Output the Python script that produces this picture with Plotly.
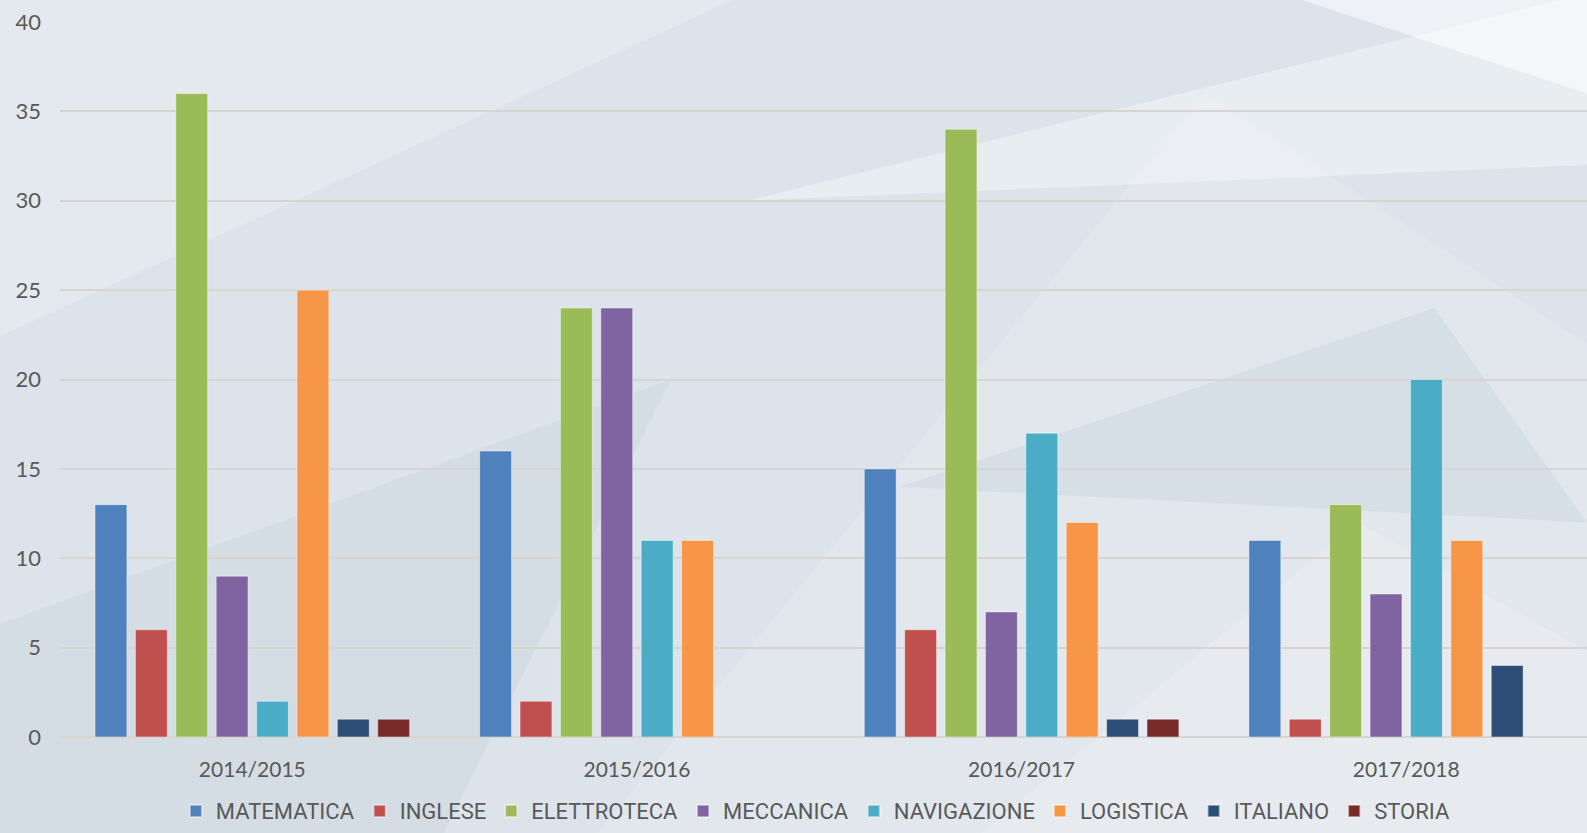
import plotly.graph_objects as go

categories = ["2014/2015", "2015/2016", "2016/2017", "2017/2018"]
series_names = ["MATEMATICA", "INGLESE", "ELETTROTECA", "MECCANICA",
                "NAVIGAZIONE", "LOGISTICA", "ITALIANO", "STORIA"]
matematica = [13, 16, 15, 11]
inglese = [6, 2, 6, 1]
elettroteca = [36, 24, 34, 13]
meccanica = [9, 24, 7, 8]
navigazione = [2, 11, 17, 20]
logistica = [25, 11, 12, 11]
italiano = [1, None, 1, 4]
storia = [1, None, 1, None]
series_values = [matematica, inglese, elettroteca, meccanica,
                 navigazione, logistica, italiano, storia]
colors = ["#4F81BD", "#C0504D", "#9BBB59", "#8064A2",
          "#4BACC6", "#F79646", "#2C4D75", "#772C2A"]
y_ticks = [0, 5, 10, 15, 20, 25, 30, 35, 40]

fig = go.Figure()
for name, vals, col in zip(series_names, series_values, colors):
    fig.add_trace(go.Bar(
        name=name, x=categories, y=vals,
        marker=dict(color=col, line=dict(color="rgba(255,255,255,0.45)", width=1)),
    ))

# decorative background facets (paper coords, extended over margins)
facets = [
    ("M-0.05,0.55 L0.45,1.04 L-0.05,1.04 Z", "rgba(255,255,255,0.22)"),
    ("M0.35,-0.14 L0.75,0.9 L1,0.55 L1,-0.14 Z", "rgba(255,255,255,0.16)"),
    ("M0.45,0.75 L1,1.04 L1,0.8 Z", "rgba(255,255,255,0.35)"),
    ("M0.8,1.04 L1,1.04 L1,0.9 Z", "rgba(255,255,255,0.5)"),
    ("M-0.05,0.15 L0.4,0.5 L0.25,-0.14 L-0.05,-0.14 Z", "rgba(180,190,200,0.16)"),
    ("M0.55,0.35 L0.9,0.6 L1,0.3 Z", "rgba(170,182,195,0.16)"),
    ("M0.6,-0.14 L0.85,0.3 L1,0.12 L1,-0.14 Z", "rgba(255,255,255,0.2)"),
]
shapes = [dict(type="path", path=p, xref="paper", yref="paper", fillcolor=c,
               line=dict(width=0), layer="below") for p, c in facets]

fig.update_layout(
    width=1587, height=833,
    margin=dict(l=60, r=0, t=22, b=96, autoexpand=False),
    paper_bgcolor="#dce3ea",
    plot_bgcolor="rgba(0,0,0,0)",
    barmode="group",
    bargap=0.16,
    bargroupgap=0.21,
    shapes=shapes,
    font=dict(family="Lato, Open Sans, sans-serif", color="#595959"),
    legend=dict(
        orientation="h", x=0.495, xanchor="center", y=-0.133, yanchor="bottom",
        font=dict(family="Roboto, sans-serif", size=22, color="#595959"),
        bgcolor="rgba(0,0,0,0)", borderwidth=0, itemsizing="constant",
        traceorder="normal",
    ),
    xaxis=dict(
        range=[-0.5, 3.47], showgrid=False, showline=False, zeroline=False,
        tickfont=dict(size=21, color="#595959"), ticks="", ticklabelstandoff=18,
    ),
    yaxis=dict(
        range=[0, 40], tickvals=y_ticks, showgrid=True,
        gridcolor="#d8d4d0", gridwidth=2, zeroline=True, zerolinecolor="#d8d4d0",
        zerolinewidth=2, showline=False, ticks="",
        tickfont=dict(size=22, color="#595959"), ticklabelstandoff=18,
    ),
)

fig.write_html("out.html", config={"displayModeBar": False},
               post_script="document.body.style.margin='0';")
